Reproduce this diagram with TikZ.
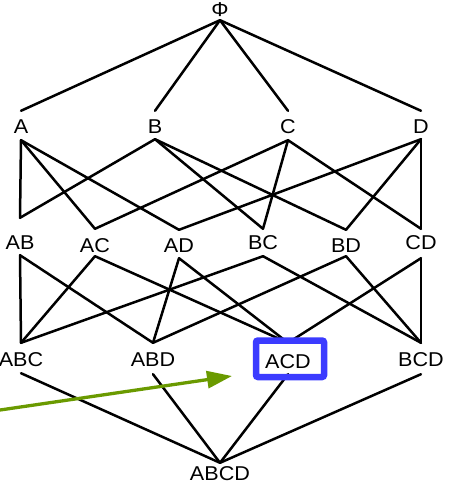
\documentclass[tikz,border=0pt]{standalone}
\usepackage{fontspec}
\setmainfont{Liberation Sans}[FakeStretch=1.08]
\usetikzlibrary{arrows.meta}
\definecolor{hlblue}{RGB}{59,59,255}
\definecolor{arrowgreen}{RGB}{106,154,0}
\begin{document}
\begin{tikzpicture}[x=1pt,y=-1pt,
  v/.style 2 args={inner sep=0pt, anchor=base, text height=#1pt, text depth=#2pt, font=\fontsize{20}{24}\selectfont},
  edge/.style={line width=2.5pt, line cap=round},
  hlbox/.style={draw=hlblue, line width=6.5pt, rounded corners=2pt, minimum width=68pt, minimum height=36.5pt, inner sep=0pt},
  pointer/.style={draw=arrowgreen, line width=3.3pt, -{Triangle[length=25pt,width=17pt]}}]
\useasboundingbox (0,0) rectangle (453,484);
% level 0
\node[v={14}{3}] (P) at (220,17) {Φ};
% level 1
\node[v={22}{7}] (A) at (21,133) {A};
\node[v={22}{6}] (B) at (155,133) {B};
\node[v={22}{7}] (C) at (288,133) {C};
\node[v={22}{6}] (D) at (421,133) {D};
% level 2
\node[v={31}{6}] (AB) at (20,249) {AB};
\node[v={23}{4}] (AC) at (95,252) {AC};
\node[v={22}{6}] (AD) at (179,252) {AD};
\node[v={20}{7}] (BC) at (263,249) {BC};
\node[v={22}{4}] (BD) at (346,252) {BD};
\node[v={20}{9}] (CD) at (421,249) {CD};
% level 3
\node[v={23}{7}] (ABC) at (21,366) {ABC};
\node[v={23}{8}] (ABD) at (153,366) {ABD};
\node[v={25}{6}] (ACD) at (288,368) {ACD};
\node[v={23}{8}] (BCD) at (421,366) {BCD};
% level 4
\node[v={17}{0}] (ABCD) at (220,480) {ABCD};
% edges
\foreach \x in {A,B,C,D} \draw[edge] (P.south) -- (\x.north);
\foreach \a/\b in {A/AB,A/AC,A/AD,B/AB,B/BC,B/BD,C/AC,C/BC,C/CD,D/AD,D/BD,D/CD,
  AB/ABC,AB/ABD,AC/ABC,AC/ACD,AD/ABD,AD/ACD,BC/ABC,BC/BCD,BD/ABD,BD/BCD,CD/ACD,CD/BCD,
  ABC/ABCD,ABD/ABCD,ACD/ABCD,BCD/ABCD}
  \draw[edge] (\a.south) -- (\b.north);
% highlight box
\node[hlbox] (box) at (290,358.75) {};
% green pointer
\coordinate (start) at (-2,410.3);
\coordinate (tip) at (232,376);
\draw[pointer] (start) -- (tip);
\end{tikzpicture}
\end{document}
